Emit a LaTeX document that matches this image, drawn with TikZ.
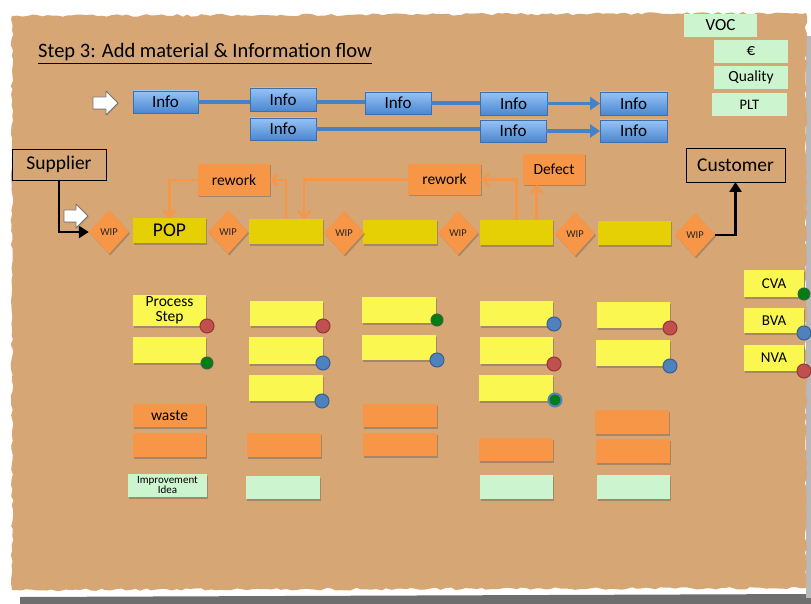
\documentclass[tikz,border=0pt]{standalone}
\usepackage{fontspec}
\setmainfont{Carlito}
\usetikzlibrary{shapes.geometric,arrows.meta,decorations.pathmorphing,shadows,calc}
\definecolor{board}{RGB}{214,166,116}
\definecolor{shadowgray}{RGB}{110,110,110}
\definecolor{edgegray}{RGB}{185,185,185}
\definecolor{infotop}{RGB}{150,195,245}
\definecolor{infobot}{RGB}{75,135,210}
\definecolor{infoborder}{RGB}{60,110,180}
\definecolor{infoline}{RGB}{70,130,200}
\definecolor{procyellow}{RGB}{229,208,5}
\definecolor{sticky}{RGB}{250,248,80}
\definecolor{orangeN}{RGB}{247,150,70}
\definecolor{orangeL}{RGB}{247,150,70}
\definecolor{lgreen}{RGB}{204,244,206}
\definecolor{dotred}{RGB}{192,80,77}
\definecolor{dotredD}{RGB}{150,55,55}
\definecolor{dotblue}{RGB}{79,129,189}
\definecolor{dotblueD}{RGB}{55,95,150}
\definecolor{dotgreen}{RGB}{0,125,20}
\definecolor{dotgreenD}{RGB}{60,100,60}
\tikzset{
  box/.style={inner sep=0pt, outer sep=0pt, anchor=north west, align=center, text=black},
  sz/.style 2 args={minimum width=#1pt, minimum height=#2pt},
  shad/.style={drop shadow={shadow xshift=1.2pt, shadow yshift=-1.5pt, opacity=0.35, fill=black!70}},
  info/.style={box, top color=infotop, bottom color=infobot, draw=infoborder, line width=0.6pt, font=\fontsize{17}{18}\selectfont, shad},
  kpi/.style={box, fill=lgreen, font=\fontsize{17}{18}\selectfont},
  partner/.style={box, draw=black, line width=0.8pt, font=\fontsize{19.5}{20}\selectfont},
  wip/.style={diamond, fill=orangeN, inner sep=0pt, minimum width=40pt, minimum height=44pt, font=\fontsize{10.5}{11}\selectfont, text=black!85, shad},
  proc/.style={box, fill=procyellow, font=\fontsize{19.5}{20}\selectfont, shad},
  rwk/.style={box, fill=orangeN, font=\fontsize{15.5}{16}\selectfont, shad},
  stick/.style={box, fill=sticky, font=\fontsize{15.5}{16}\selectfont, shad},
  wst/.style={box, fill=orangeN, font=\fontsize{15.5}{16}\selectfont, shad},
  idea/.style={box, fill=lgreen, font=\fontsize{11}{12}\selectfont, shad},
  vtag/.style={box, fill=sticky, font=\fontsize{15}{16}\selectfont, shad},
  dot/.style={circle, inner sep=0pt, minimum size=14pt, line width=1pt},
  rdot/.style={dot, fill=dotred, draw=dotredD},
  bdot/.style={dot, fill=dotblue, draw=dotblueD},
  gdot/.style={dot, minimum size=12pt, fill=dotgreen, draw=dotgreenD},
  gbdot/.style={dot, fill=dotgreen, draw=dotblue, line width=2pt, minimum size=13pt},
  infoln/.style={draw=infoline, line width=3.4pt},
  infoarrow/.style={infoln, -{Triangle[length=10pt,width=13pt]}},
  rwline/.style={draw=orangeL, line width=2.6pt, -{Straight Barb[length=6pt,width=12pt]}},
  blk/.style={draw=black, line width=2.8pt, -{Triangle[length=10pt,width=12pt]}},
  blockarrow/.style={fill=white, draw=black!55, line width=0.8pt, line join=round}
}
\begin{document}
\begin{tikzpicture}[x=1pt,y=-1pt]
\useasboundingbox (0,0) rectangle (811,604);
\fill[white] (0,0) rectangle (811,604);
% board with shadow
\fill[shadowgray] (20,597) -- (811,594) -- (811,604) -- (20,604) -- cycle;
\fill[edgegray] (806,36) rectangle (811,598);
\pgfmathsetseed{7}
\fill[board, decorate, decoration={random steps, segment length=5pt, amplitude=1.3pt}]
  (12,16) -- (806,13) -- (806,588) -- (12,590) -- cycle;

% title
\node[anchor=base west, inner sep=0pt, font=\fontsize{20.5}{21}\selectfont] (title) at (38,58) {\underline{Step 3: Add material \& Information flow}};

% information flow
\node[info, sz={65}{22}] (i1) at (133,91) {Info};
\node[info, sz={66}{23}] (i2) at (250,88) {Info};
\node[info, sz={66}{22}] (i3) at (365,92) {Info};
\node[info, sz={67}{23}] (i4) at (480,92) {Info};
\node[info, sz={67}{23}] (i5) at (600,92) {Info};
\node[info, sz={66}{22}] (i6) at (250,118) {Info};
\node[info, sz={66}{22}] (i7) at (480,120) {Info};
\node[info, sz={67}{22}] (i8) at (600,120) {Info};
\draw[infoln] (i1.east) -- (i2.west |- i1.east);
\draw[infoln] (i2.east |- i1.east) -- (i3.west |- i1.east);
\draw[infoln] (i3.east) -- (i4.west |- i3.east);
\draw[infoarrow] (i4.east) -- (i5.west |- i4.east);
\draw[infoln] (i6.east) -- (i7.west |- i6.east);
\draw[infoarrow] (i7.east) -- (i8.west |- i7.east);

% KPI tags
\node[kpi, sz={73}{23}] (voc) at (684,14) {VOC};
\node[kpi, sz={74}{23}] (eur) at (714,40) {€};
\node[kpi, sz={74}{23}, font=\fontsize{15.5}{16}\selectfont] (qual) at (714,66) {Quality};
\node[kpi, sz={75}{23}, font=\fontsize{14.5}{15}\selectfont] (plt) at (712,93) {PLT};

% supplier / customer
\node[partner, sz={94}{31}] (sup) at (12,149) {Supplier};
\node[partner, sz={99}{34}] (cust) at (686,148) {Customer};

% rework / defect
\node[rwk, sz={72}{32}] (rw1) at (198,164) {rework};
\node[rwk, sz={73}{31}] (rw2) at (408,164) {rework};
\node[rwk, sz={62}{31}] (defect) at (523,154) {Defect};

% process row
\node[proc, sz={73}{25}] (pop) at (133,218) {POP};
\node[proc, sz={74}{25}] (b2) at (249,219) {};
\node[proc, sz={74}{24}] (b3) at (363,220) {};
\node[proc, sz={73}{25}] (b4) at (480,220) {};
\node[proc, sz={73}{24}] (b5) at (598,221) {};
\node[wip] (w1) at (109,232) {WIP};
\node[wip] (w2) at (228,232) {WIP};
\node[wip] (w3) at (344,233) {WIP};
\node[wip] (w4) at (458,233) {WIP};
\node[wip] (w5) at (575,234) {WIP};
\node[wip] (w6) at (695,235) {WIP};

% material flow
\draw[blk] (sup.south) |- (w1.west);
\draw[blk] (w6.east) -| (cust.south);

% rework loops
\draw[rwline] (rw1.west) -| (pop.north);
\draw[rwline] (b2.north) |- (rw1.east);
\draw[rwline] (rw2.west) -| ([xshift=18pt]b2.north);
\draw[rwline] (b4.north) |- (rw2.east);
\draw[rwline] ([xshift=20pt]b4.north) -- ([xshift=20pt]b4.north |- defect.south);

% white block arrows
\draw[blockarrow, drop shadow={shadow xshift=1pt, shadow yshift=-1pt, opacity=0.3}] (93,97) -- (106,97) -- (106,91) -- (118,103) -- (106,115) -- (106,109) -- (93,109) -- cycle;
\draw[blockarrow, drop shadow={shadow xshift=1pt, shadow yshift=-1pt, opacity=0.3}] (64,210) -- (76,210) -- (76,204) -- (88,216) -- (76,228) -- (76,222) -- (64,222) -- cycle;

% column 1
\node[stick, sz={73}{31}] (s11) at (133,295) {Process\\[-1pt]Step};
\node[stick, sz={73}{26}] (s12) at (133,337) {};
\node[wst, sz={73}{23}] (o11) at (133,404) {waste};
\node[wst, sz={73}{24}] (o12) at (133,433) {};
\node[idea, sz={79}{23}] (g11) at (128,474) {Improvement\\[-2pt]Idea};
% column 2
\node[stick, sz={73}{25}] (s21) at (250,301) {};
\node[stick, sz={74}{27}] (s22) at (249,337) {};
\node[stick, sz={74}{26}] (s23) at (249,375) {};
\node[wst, sz={74}{24}] (o21) at (247,433) {};
\node[idea, sz={74}{23}] (g21) at (246,476) {};
% column 3
\node[stick, sz={74}{26}] (s31) at (362,297) {};
\node[stick, sz={74}{25}] (s32) at (362,335) {};
\node[wst, sz={74}{23}] (o31) at (363,404) {};
\node[wst, sz={74}{23}] (o32) at (363,433) {};
% column 4
\node[stick, sz={73}{25}] (s41) at (480,301) {};
\node[stick, sz={73}{27}] (s42) at (480,337) {};
\node[stick, sz={74}{26}] (s43) at (479,375) {};
\node[wst, sz={74}{23}] (o41) at (479,438) {};
\node[idea, sz={73}{24}] (g41) at (480,475) {};
% column 5
\node[stick, sz={73}{26}] (s51) at (597,302) {};
\node[stick, sz={74}{26}] (s52) at (596,340) {};
\node[wst, sz={74}{24}] (o51) at (595,410) {};
\node[wst, sz={74}{24}] (o52) at (596,439) {};
\node[idea, sz={73}{24}] (g51) at (597,475) {};
% value tags
\node[vtag, sz={60}{27}] (cva) at (744,270) {CVA};
\node[vtag, sz={60}{25}] (bva) at (744,308) {BVA};
\node[vtag, sz={60}{26}] (nva) at (744,345) {NVA};

% dots
\node[rdot] (d11) at ([xshift=1pt]s11.south east) {};
\node[gdot] (d12) at ([xshift=1pt]s12.south east) {};
\node[rdot] (d21) at (s21.south east) {};
\node[bdot] (d22) at ([yshift=1pt]s22.south east) {};
\node[bdot] (d23) at ([xshift=-1pt]s23.south east) {};
\node[gdot] (d31) at ([xshift=1pt,yshift=3pt]s31.south east) {};
\node[bdot] (d32) at ([xshift=1pt]s32.south east) {};
\node[bdot] (d41) at ([xshift=1pt,yshift=2pt]s41.south east) {};
\node[rdot] (d42) at ([xshift=1pt]s42.south east) {};
\node[gbdot] (d43) at ([xshift=2pt,yshift=1pt]s43.south east) {};
\node[rdot] (d51) at (s51.south east) {};
\node[bdot] (d52) at (s52.south east) {};
\node[gdot] (dcva) at ([yshift=3pt]cva.south east) {};
\node[bdot] (dbva) at (bva.south east) {};
\node[rdot] (dnva) at (nva.south east) {};
\end{tikzpicture}
\end{document}
